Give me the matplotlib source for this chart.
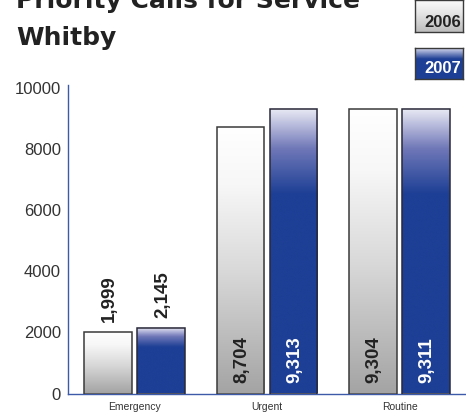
import numpy as np
import matplotlib
matplotlib.use("Agg")
import matplotlib.pyplot as plt
from matplotlib.colors import to_rgb

categories = ["Emergency", "Urgent", "Routine"]
years = ["2006", "2007"]
calls_2006 = [1999, 8704, 9304]
calls_2007 = [2145, 9313, 9311]
yticks = [0, 2000, 4000, 6000, 8000, 10000]

plt.rcParams["font.family"] = ["Liberation Sans", "DejaVu Sans"]

W, H = 466, 416
fig = plt.figure(figsize=(W / 100, H / 100), dpi=100)
ax = fig.add_axes([68 / W, 22.5 / H, 398 / W, 308.4 / H])


def gradient(stops, n=256):
    t = np.linspace(0, 1, n)
    pos = [s[0] for s in stops]
    cols = np.array([to_rgb(s[1]) for s in stops])
    arr = np.stack([np.interp(t, pos, cols[:, k]) for k in range(3)], axis=-1)
    return arr[:, None, :]


gray_grad = gradient([(0, "#a4a4a4"), (0.45, "#d8d8d8"), (0.78, "#f7f7f7"), (1, "#ffffff")])
blue_grad = gradient([(0, "#1d3f95"), (0.70, "#1d3f95"), (0.86, "#7078b8"), (1, "#ebebf5")])

x = np.arange(len(categories))
bw = 0.36
off = 0.2
bars06 = ax.bar(x - off, calls_2006, bw, facecolor="none", edgecolor="#3a3a3a", lw=1.1, zorder=3)
bars07 = ax.bar(x + off, calls_2007, bw, facecolor="none", edgecolor="#2a2a3a", lw=1.1, zorder=3)

for bars, grad in ((bars06, gray_grad), (bars07, blue_grad)):
    for b in bars:
        x0, w, h = b.get_x(), b.get_width(), b.get_height()
        ax.imshow(grad, extent=[x0, x0 + w, 0, h], origin="lower", aspect="auto",
                  interpolation="bilinear", zorder=2)

# value labels
for bars, vals, inside_col in ((bars06, calls_2006, "#222222"), (bars07, calls_2007, "white")):
    for b, v in zip(bars, vals):
        cx = b.get_x() + b.get_width() / 2
        if v < 5000:
            ax.annotate(f"{v:,}", xy=(cx, v), xytext=(2, 10), textcoords="offset pixels",
                        rotation=90, ha="center", va="bottom", fontsize=13.5,
                        fontweight="bold", color="#222222", zorder=4)
        else:
            ax.annotate(f"{v:,}", xy=(cx, 0), xytext=(1, 10.5), textcoords="offset pixels",
                        rotation=90, ha="center", va="bottom", fontsize=13.5,
                        fontweight="bold", color=inside_col, zorder=4)

ax.set_xlim(-0.5, 2.5)
ax.set_ylim(0, 10080)
ax.set_yticks(yticks)
ax.set_yticklabels([str(v) for v in yticks])
ax.set_xticks(x)
ax.set_xticklabels(categories)
ax.tick_params(axis="y", length=0, pad=5, labelsize=12, labelcolor="#333333")
ax.tick_params(axis="x", length=0, pad=6, labelsize=7.5, labelcolor="#333333")
for s in ("top", "right"):
    ax.spines[s].set_visible(False)
for s in ("left", "bottom"):
    ax.spines[s].set_color("#3d5aa8")
    ax.spines[s].set_linewidth(1.0)
ax.patch.set_visible(False)

# title
fig.text(16 / W, 1 - 8 / H, "Priority Calls for Service", fontsize=18, fontweight="bold",
         family="DejaVu Sans", color="#222222", va="baseline", ha="left")
fig.text(16 / W, 1 - 45 / H, "Whitby", fontsize=18, fontweight="bold",
         family="DejaVu Sans", color="#222222", va="baseline", ha="left")

# legend boxes
leg_specs = [
    (years[0], 0, 32, gradient([(0, "#bcbcbc"), (0.6, "#e6e6e6"), (1, "#fbfbfb")]), "#222222", 27),
    (years[1], 48, 79, gradient([(0, "#1d3f95"), (0.65, "#1d3f95"), (1, "#d8daee")]), "white", 73),
]
for label, top, bot, grad, tcol, base in leg_specs:
    lax = fig.add_axes([415 / W, (H - bot) / H, 48 / W, (bot - top) / H])
    lax.imshow(grad, extent=[0, 1, 0, 1], origin="lower", aspect="auto", interpolation="bilinear")
    lax.set_xlim(0, 1)
    lax.set_ylim(0, 1)
    lax.set_xticks([])
    lax.set_yticks([])
    for s in lax.spines.values():
        s.set_color("#3a3a3a")
        s.set_linewidth(1.0)
    lax.text(0.57, (bot - base) / (bot - top), label, transform=lax.transAxes, ha="center",
             va="baseline", fontsize=12, fontweight="bold", color=tcol)

fig.savefig("out.png", dpi=100)
